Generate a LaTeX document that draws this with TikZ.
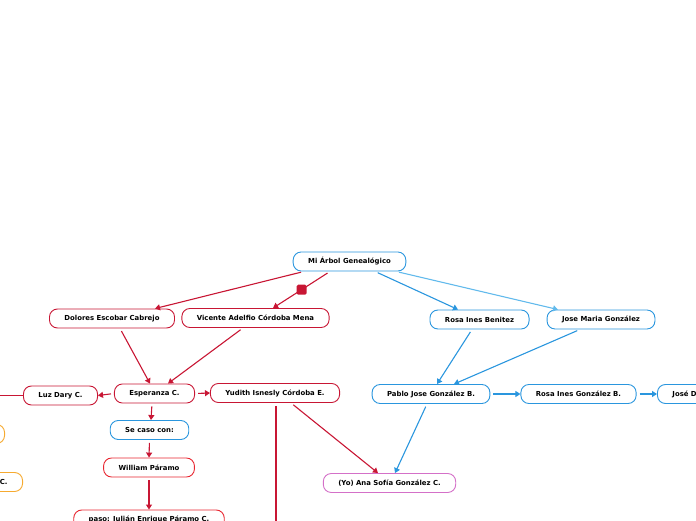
\documentclass[tikz,border=0pt]{standalone}
\usepackage{fontspec}
\setmainfont{DejaVu Sans}
\usepackage{xcolor}
\usetikzlibrary{arrows.meta}
\definecolor{treered}{RGB}{200,22,52}
\definecolor{brightred}{RGB}{232,38,48}
\definecolor{treeblue}{RGB}{42,150,222}
\definecolor{lightblue}{RGB}{98,186,236}
\definecolor{treepink}{RGB}{212,112,200}
\definecolor{treeorange}{RGB}{246,170,48}

\tikzset{
	box/.style={draw, fill=white, rounded corners=8pt, minimum height=19pt, inner xsep=15pt, inner ysep=0pt, line width=0.9pt, font=\fontsize{6.9}{8}\selectfont\bfseries},
	link/.style={line width=1.1pt, -{Triangle[length=5pt,width=6pt]}, shorten <=3pt},
	redsq/.style={fill=treered, rounded corners=1.5pt, minimum size=10pt, inner sep=0pt, sloped=false},
}

\begin{document}
\begin{tikzpicture}[x=1pt, y=1pt]
	\clip (0,0) rectangle (696,520);
	\node[box, draw=treeblue] (root) at (349.50,258.50) {Mi Árbol Genealógico};
	\node[box, draw=treered] (dolores) at (112.00,201.50) {Dolores Escobar Cabrejo};
	\node[box, draw=treered] (vicente) at (255.50,202.00) {Vicente Adelfio Córdoba Mena};
	\node[box, draw=treeblue] (rosab) at (479.50,200.50) {Rosa Ines Benitez};
	\node[box, draw=treeblue] (josem) at (601.00,200.50) {Jose Maria González};
	\node[box, draw=treered] (luz) at (60.50,124.50) {Luz Dary C.};
	\node[box, draw=treered] (esper) at (154.50,126.50) {Esperanza C.};
	\node[box, draw=treered] (yudith) at (275.00,127.00) {Yudith Isnesly Córdoba E.};
	\node[box, draw=treeblue] (pablo) at (431.00,126.00) {Pablo Jose González B.};
	\node[box, draw=treeblue] (rosag) at (578.50,126.00) {Rosa Ines González B.};
	\node[box, draw=treeblue, anchor=west, text width=78pt] (josed) at (657.00,126.00) {José D};
	\node[box, draw=treeblue] (secaso) at (149.50,90.00) {Se caso con:};
	\node[box, draw=brightred] (william) at (149.00,52.50) {William Páramo};
	\node[box, draw=brightred] (paso) at (149.00,0.50) {paso: Julián Enrique Páramo C.};
	\node[box, draw=treepink] (yo) at (389.50,37.00) {(Yo) Ana Sofía González C.};
	\node[box, draw=treeorange, anchor=east, minimum width=70pt] (orangea) at (5.00,86.00) {};
	\node[box, draw=treeorange, anchor=east] (orangeb) at (23.00,38.00) {C.};
	\coordinate (luzend) at (-10.00,124.50);
	\coordinate (yudithend) at (276.00,-10.00);
	\draw[link, treered] ([xshift=-45.5pt]root.south) -- ([xshift=43pt]dolores.north);
	\draw[link, treered] ([xshift=-19.5pt]root.south) -- node[redsq] {} ([xshift=17.5pt]vicente.north);
	\draw[link, treeblue] ([xshift=25.5pt]root.south) -- ([xshift=-21.5pt]rosab.north);
	\draw[link, lightblue] ([xshift=46.5pt]root.south) -- ([xshift=-43pt]josem.north);
	\draw[link, treered] ([xshift=8pt]dolores.south) -- ([xshift=-4.5pt]esper.north);
	\draw[link, treered] ([xshift=-12.5pt]vicente.south) -- ([xshift=13.5pt]esper.north);
	\draw[link, treeblue] ([xshift=-7.5pt]rosab.south) -- ([xshift=6pt]pablo.north);
	\draw[link, treeblue] ([xshift=-21pt]josem.south) -- ([xshift=23pt]pablo.north);
	\draw[link, treered] (esper.west) -- (luz.east);
	\draw[link, treered] (esper.east) -- (yudith.west);
	\draw[treered, line width=1.1pt] (luz.west) -- (luzend);
	\draw[link, treered] ([xshift=-2.5pt]esper.south) -- ([xshift=1.5pt]secaso.north);
	\draw[link, treered] (secaso.south) -- (william.north);
	\draw[link, treered] (william.south) -- (paso.north);
	\draw[link, treered] ([xshift=16pt]yudith.south) -- ([xshift=-11.5pt]yo.north);
	\draw[link, treeblue] ([xshift=-4pt]pablo.south) -- ([xshift=5.5pt]yo.north);
	\draw[treered, line width=1.1pt, shorten <=3pt] ([xshift=1pt]yudith.south) -- (yudithend);
	\draw[link, treeblue] (pablo.east) -- (rosag.west);
	\draw[link, treeblue] (rosag.east) -- (josed.west);
\end{tikzpicture}
\end{document}
